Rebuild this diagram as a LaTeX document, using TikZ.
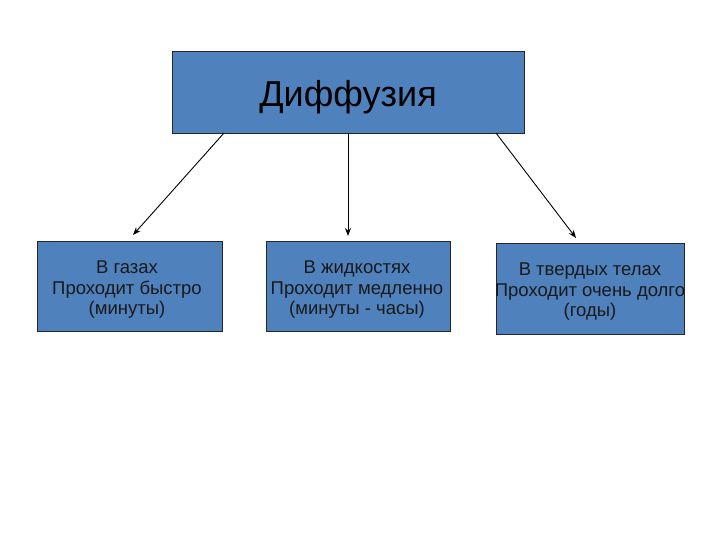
\documentclass[tikz,border=0pt]{standalone}
\usepackage{fontspec}
\setmainfont{Liberation Sans}
\usetikzlibrary{arrows.meta}
\definecolor{boxblue}{HTML}{4F81BD}
\begin{document}
\begin{tikzpicture}[x=1pt,y=-1pt,
  bluebox/.style={draw=black!85,line width=0.8pt,fill=boxblue},
  conn/.style={draw=black,line width=0.9pt,-{Stealth[length=8pt,width=6pt]}},
  smalltext/.style={font=\fontsize{18.5}{20.5}\selectfont,align=center,text=black!90}]
\useasboundingbox (0,0) rectangle (720,540);
\draw[bluebox] (172,51) rectangle (524,133);
\node[font=\fontsize{36}{40}\selectfont] (top) at (348,97) {Диффузия};
\coordinate (a1) at (224,133);
\coordinate (a2) at (348,133);
\coordinate (a3) at (496,133);
\draw[bluebox] (37,241) rectangle (222,331);
\draw[bluebox] (266,241) rectangle (450,331);
\draw[bluebox] (496,243) rectangle (684,334);
\node[smalltext] (b1) at (127,290) {В газах\\Проходит быстро\\(минуты)};
\node[smalltext] (b2) at (357,290) {В жидкостях\\Проходит медленно\\(минуты - часы)};
\node[smalltext] (b3) at (590,292) {В твердых телах\\Проходит очень долго\\(годы)};
\coordinate (e1) at (133,235);
\coordinate (e2) at (348,236);
\coordinate (e3) at (576,238);
\draw[conn] (a1) -- (e1);
\draw[conn] (a2) -- (e2);
\draw[conn] (a3) -- (e3);
\end{tikzpicture}
\end{document}
